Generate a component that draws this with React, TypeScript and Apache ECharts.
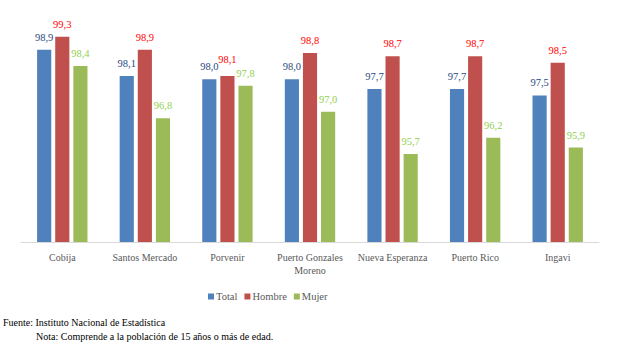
import React, { useEffect, useRef } from "react";
import * as echarts from "echarts";

const categories = ["Cobija", "Santos Mercado", "Porvenir", "Puerto Gonzales\nMoreno", "Nueva Esperanza", "Puerto Rico", "Ingavi"];
const totalValues = [98.9, 98.1, 98.0, 98.0, 97.7, 97.7, 97.5];
const hombreValues = [99.3, 98.9, 98.1, 98.8, 98.7, 98.7, 98.5];
const mujerValues = [98.4, 96.8, 97.8, 97.0, 95.7, 96.2, 95.9];
const seriesNames = ["Total", "Hombre", "Mujer"];

const FONT = "Liberation Serif, Times New Roman, serif";

export default function App() {
  const ref = useRef<HTMLDivElement>(null);
  useEffect(() => {
    if (!ref.current) return;
    const chart = echarts.init(ref.current, undefined, { renderer: "svg" });
    const fmt = (p: any) => Number(p.value).toFixed(1).replace(".", ",");
    const mk = (name: string, data: any[], color: string, labelColor: string) => ({
      name,
      type: "bar",
      data,
      barGap: "28%",
      barCategoryGap: "39%",
      itemStyle: { color },
      label: {
        show: true,
        position: "top",
        distance: 7,
        formatter: fmt,
        color: labelColor,
        fontFamily: FONT,
        fontSize: 10.5,
      },
    });
    const hombreData = hombreValues.map((v, i) => (i === 2 ? { value: v, label: { distance: 11 } } : v));
    chart.setOption({
      animation: false,
      textStyle: { fontFamily: FONT },
      grid: { left: 21, right: 19, top: 14, bottom: 107 },
      legend: {
        data: seriesNames,
        top: 286,
        left: 203,
        itemWidth: 6,
        itemHeight: 6,
        itemGap: 7,
        icon: "rect",
        textStyle: { color: "#595959", fontFamily: FONT, fontSize: 10.5, padding: [0, 0, 0, -3] },
      },
      xAxis: {
        type: "category",
        data: categories,
        axisLine: { lineStyle: { color: "#D9D9D9", width: 1 } },
        axisTick: { show: false },
        axisLabel: {
          interval: 0,
          color: "#595959",
          fontFamily: FONT,
          fontSize: 10,
          margin: 9,
          lineHeight: 13,
        },
      },
      yAxis: {
        type: "value",
        min: 93,
        max: 100,
        show: false,
        splitLine: { show: false },
      },
      graphic: [
        {
          type: "text",
          left: 3,
          top: 317,
          style: { text: "Fuente: Instituto Nacional de Estadística", fill: "#000", fontFamily: FONT, fontSize: 10 },
        },
        {
          type: "text",
          left: 36,
          top: 331,
          style: { text: "Nota: Comprende a la población de 15 años o más de edad.", fill: "#000", fontFamily: FONT, fontSize: 10 },
        },
      ],
      series: [
        mk("Total", totalValues, "#4F81BD", "#1F497D"),
        mk("Hombre", hombreData, "#C0504D", "#FF0000"),
        mk("Mujer", mujerValues, "#9BBB59", "#92D050"),
      ],
    });
    return () => chart.dispose();
  }, []);
  return <div ref={ref} style={{ position: "fixed", left: 0, top: 0, width: 618, height: 349, background: "#fff" }} />;
}
